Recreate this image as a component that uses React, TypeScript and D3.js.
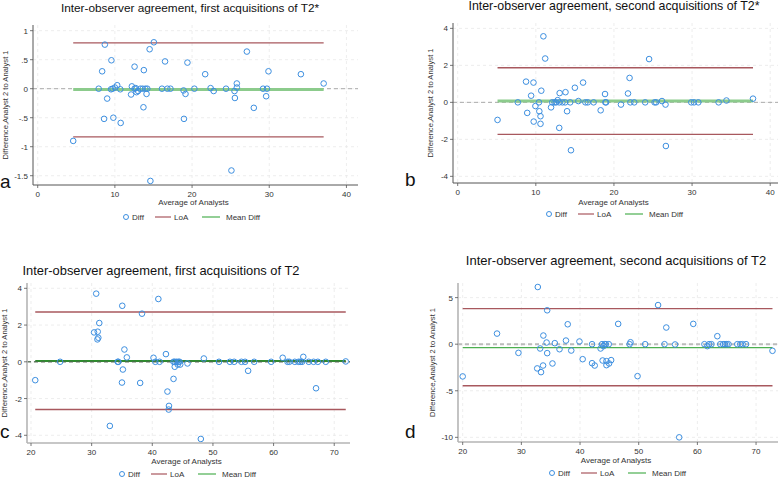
import * as d3 from "d3";
import { useRef, useEffect } from "react";

const W = 778;
const H = 481;

// ---- panel a : first acquisitions of T2*
const aAvg = [4.6, 7.9, 8.35, 8.7, 8.6, 9.0, 9.55, 9.5, 9.7, 9.8, 10.0, 10.3, 10.7, 10.75, 12.1, 12.2, 12.55, 12.55, 12.7, 12.8, 13.0, 13.3, 13.7, 13.75, 13.6, 13.95, 14.1, 14.2, 14.5, 14.6, 15.05, 16.1, 16.5, 16.8, 17.2, 18.9, 18.95, 19.15, 19.4, 20.3, 21.7, 22.4, 22.8, 24.4, 25.1, 25.5, 25.55, 25.8, 25.8, 27.1, 28.0, 29.2, 29.6, 29.7, 29.9, 34.1, 37.05];
const aDiff = [-0.9, 0, 0.3, 0.76, -0.52, -0.17, 0.49, -0.01, 0, -0.5, 0.02, 0.06, -0.01, -0.59, -0.1, 0.04, 0.38, 0, 0.01, -0.06, -0.04, 0, -0.32, 0.32, 0, 0, -0.09, 0, 0.68, -1.59, 0.8, 0, 0.47, 0, 0, -0.03, -0.52, -0.09, 0.45, 0, 0.25, 0.01, -0.04, 0, -1.41, -0.04, -0.16, 0.09, 0.02, 0.64, -0.33, 0, -0.13, 0, 0.3, 0.25, 0.09];
const aLoA = [0.79, -0.83];
const aMeanDiff = -0.015;
const aXTicks = [0, 10, 20, 30, 40];
const aYTicks = [1, 0.5, 0, -0.5, -1, -1.5];

// ---- panel b : second acquisitions of T2*
const bAvg = [5.1, 7.7, 8.75, 8.9, 9.4, 9.7, 9.73, 9.95, 10.4, 10.45, 10.6, 10.6, 10.7, 10.97, 11.2, 11.95, 12.1, 12.4, 12.6, 12.8, 13.0, 13.05, 13.0, 13.4, 13.75, 13.8, 14.0, 14.4, 14.5, 15.0, 15.45, 16.05, 16.35, 16.65, 17.4, 18.3, 18.86, 18.9, 19.0, 20.9, 21.8, 22.0, 22.1, 22.6, 24.0, 24.5, 25.2, 25.4, 26.15, 26.6, 26.65, 29.9, 30.25, 30.8, 33.4, 34.4, 37.8];
const bDiff = [-0.95, 0, 1.12, -0.57, 0.36, 1.07, -1.04, -0.2, 0, -0.48, -0.75, -1.16, 0.63, 3.57, 2.37, -0.27, 0, 0, 0, 0.12, 0, 0.5, -1.38, 0, 0, 0.55, -0.48, 0, -2.59, 0.79, 0.07, 1.07, 0, 0, 0, -0.43, 0.45, 0, 0, -0.12, 0.48, 1.32, 0, 0, 0, 2.34, 0, 0, 0.07, -0.12, -2.36, 0, 0, 0, 0, 0.1, 0.2];
const bLoA = [1.87, -1.73];
const bMeanDiff = 0.07;
const bXTicks = [0, 10, 20, 30, 40];
const bYTicks = [4, 2, 0, -2, -4];

// ---- panel c : first acquisitions of T2
const cAvg = [20.7, 24.8, 30.4, 30.75, 31.0, 31.1, 30.95, 31.26, 33.0, 34.3, 34.4, 35.05, 35.15, 35.0, 35.4, 35.8, 38.0, 38.3, 40.2, 40.5, 41.0, 41.2, 42.25, 42.5, 42.75, 42.7, 43.5, 43.5, 43.7, 44.0, 44.3, 44.5, 43.7, 44.2, 44.6, 45.8, 48.0, 48.5, 51.0, 52.8, 53.5, 54.7, 55.3, 55.8, 56.8, 59.6, 61.5, 62.3, 62.6, 63.5, 64.1, 64.4, 64.7, 64.9, 65.8, 66.6, 67.3, 67.0, 68.6, 71.9];
const cDiff = [-1.0, 0, 1.6, 3.71, 1.64, 1.31, 1.22, 2.11, -3.49, 0, 0, 3.05, -0.42, -1.13, 0.67, 0.24, -1.15, 2.62, 0.22, 0, 3.42, 0, 0.42, -1.62, -2.4, -2.6, -0.93, 0, 0, 0, 0, 0, -0.27, -0.15, -0.15, -0.09, -4.2, 0.18, 0, 0, 0, 0, 0, -0.49, 0, 0, 0.22, 0, 0, 0, 0, 0, 0, 0.27, 0, 0, 0, -1.44, 0, 0.02];
const cLoA = [2.71, -2.6];
const cMeanDiff = 0.04;
const cXTicks = [20, 30, 40, 50, 60, 70];
const cYTicks = [4, 2, 0, -2, -4];

// ---- panel d : second acquisitions of T2
const dAvg = [20.0, 25.85, 29.5, 32.7, 32.8, 33.2, 33.35, 33.7, 33.75, 34.3, 34.4, 34.4, 35.3, 35.7, 36.5, 37.6, 37.9, 38.5, 39.9, 40.45, 42.05, 42.05, 42.5, 43.5, 43.75, 43.85, 44.0, 44.2, 44.4, 44.5, 44.5, 44.9, 44.95, 45.3, 46.5, 48.45, 48.6, 49.8, 51.1, 53.3, 54.4, 54.7, 56.2, 56.9, 59.3, 61.2, 61.7, 62.0, 62.4, 63.4, 63.9, 64.4, 64.7, 65.0, 65.3, 66.8, 67.3, 67.7, 68.3, 72.8];
const dDiff = [-3.46, 1.14, -0.93, -2.6, 6.14, -0.46, -3.0, -2.29, 0.93, 0.18, 3.64, -0.96, -2.07, 0.11, -0.54, 0.39, 2.14, -0.68, 0.29, -1.61, 0, -2.04, -2.29, -0.46, 0, -1.75, -0.21, 0, 0, -2.25, -1.82, 0, -2.07, -1.71, 2.18, 0, 0.21, -3.43, 0, 4.2, 0, 1.79, -0.03, -10.0, 2.18, 0, -0.21, 0, 0, 0.86, 0, 0, 0, 0, 0, 0, 0, 0, 0, -0.71];
const dLoA = [3.82, -4.46];
const dMeanDiff = -0.36;
const dXTicks = [20, 30, 40, 50, 60, 70];
const dYTicks = [5, 0, -5, -10];

const titles = [
  "Inter-observer agreement, first acquisitions of T2*",
  "Inter-observer agreement, second acquisitions of T2*",
  "Inter-observer agreement, first acquisitions of T2",
  "Inter-observer agreement, second acquisitions of T2",
];
const letters = ["a", "b", "c", "d"];

const FONT = "'Liberation Sans', Arial, Helvetica, sans-serif";
const BLUE = "#3d8fe0";
const LOA = "#a8585e";

// stata style labels: .5 instead of 0.5
const fmt = (v) => String(v).replace(/^0\./, ".").replace(/^-0\./, "-.");

const panels = [
  {
    avg: aAvg, diff: aDiff, loa: aLoA, md: aMeanDiff, xt: aXTicks, yt: aYTicks,
    left: 33, right: 358, top: 25, bottom: 185,
    xd: [-0.61, 41.5], yd: [-1.66, 1.098],
    titleX: 190, titleY: 12, titleSize: 11.8, ylabX: 8, xlabY: 205, legX: 126, legY: 220,
    letX: 0, letY: 188, mdColor: "#8ccb8c", mdWidth: 3, zeroColor: "#aaa", zeroW: 1,
  },
  {
    avg: bAvg, diff: bDiff, loa: bLoA, md: bMeanDiff, xt: bXTicks, yt: bYTicks,
    left: 453, right: 778, top: 23, bottom: 183,
    xd: [-0.6, 41.0], yd: [-4.36, 4.29],
    titleX: 614, titleY: 10, titleSize: 12.4, ylabX: 433, xlabY: 205, legX: 549, legY: 217,
    letX: 405, letY: 186, mdColor: "#8ccb8c", mdWidth: 3, zeroColor: "#aaa", zeroW: 1,
  },
  {
    avg: cAvg, diff: cDiff, loa: cLoA, md: cMeanDiff, xt: cXTicks, yt: cYTicks,
    left: 27, right: 350, top: 283, bottom: 443,
    xd: [19.34, 72.6], yd: [-4.42, 4.29],
    titleX: 161, titleY: 275, titleSize: 12.9, ylabX: 7, xlabY: 464, legX: 122, legY: 477,
    letX: 0, letY: 438, mdColor: "#2e8b2e", mdWidth: 2, zeroColor: "#888", zeroW: 1,
  },
  {
    avg: dAvg, diff: dDiff, loa: dLoA, md: dMeanDiff, xt: dXTicks, yt: dYTicks,
    left: 458, right: 778, top: 283, bottom: 442,
    xd: [19.2, 73.74], yd: [-10.5, 6.57],
    titleX: 616, titleY: 265, titleSize: 13, ylabX: 435, xlabY: 463, legX: 552, legY: 476,
    letX: 405, letY: 438, mdColor: "#4caf50", mdWidth: 1.2, zeroColor: "#bbb", zeroW: 2,
  },
];

const ChartDraw = () => {
  const chartRef = useRef(null);

  useEffect(() => {
    const svg = d3.select(chartRef.current);
    svg.selectAll("*").remove();
    svg.append("rect").attr("width", W).attr("height", H).attr("fill", "#fff");

    panels.forEach((p, i) => {
      const g = svg.append("g");
      const x = d3.scaleLinear().domain(p.xd).range([p.left, p.right]);
      const y = d3.scaleLinear().domain(p.yd).range([p.bottom, p.top]);

      // grid
      g.selectAll(".gy").data(p.yt).enter().append("line")
        .attr("x1", p.left).attr("x2", p.right)
        .attr("y1", d => y(d)).attr("y2", d => y(d))
        .attr("stroke", "#e8e8e8").attr("stroke-dasharray", "3,3").attr("stroke-width", 0.8);
      g.selectAll(".gx").data(p.xt).enter().append("line")
        .attr("x1", d => x(d)).attr("x2", d => x(d))
        .attr("y1", p.top).attr("y2", p.bottom)
        .attr("stroke", "#e8e8e8").attr("stroke-dasharray", "3,3").attr("stroke-width", 0.8);

      // zero reference
      g.append("line")
        .attr("x1", p.left).attr("x2", p.right)
        .attr("y1", y(0)).attr("y2", y(0))
        .attr("stroke", p.zeroColor).attr("stroke-width", p.zeroW).attr("stroke-dasharray", "4,3");

      const [x0, x1] = d3.extent(p.avg);
      // limits of agreement
      p.loa.forEach(v => {
        g.append("line")
          .attr("x1", x(x0)).attr("x2", x(x1))
          .attr("y1", y(v)).attr("y2", y(v))
          .attr("stroke", LOA).attr("stroke-width", 1.4);
      });
      // mean diff
      g.append("line")
        .attr("x1", x(x0)).attr("x2", x(x1))
        .attr("y1", y(p.md)).attr("y2", y(p.md))
        .attr("stroke", p.mdColor).attr("stroke-width", p.mdWidth);
      if (i === 2) {
        g.append("line")
          .attr("x1", p.left).attr("x2", p.right)
          .attr("y1", y(0)).attr("y2", y(0))
          .attr("stroke", "#4d6b4d").attr("stroke-width", 1).attr("stroke-dasharray", "4,3");
      }

      // points
      g.selectAll(".pt").data(p.avg).enter().append("circle")
        .attr("cx", d => x(d))
        .attr("cy", (d, j) => y(p.diff[j]))
        .attr("r", 2.8)
        .attr("fill", "none")
        .attr("stroke", BLUE)
        .attr("stroke-width", 1);

      // axes
      const axisColor = i >= 2 ? "#b5b5b5" : "#555";
      const axisW = i >= 2 ? 1.6 : 1;
      g.append("line").attr("x1", p.left).attr("x2", p.left)
        .attr("y1", p.top).attr("y2", p.bottom)
        .attr("stroke", axisColor).attr("stroke-width", axisW);
      g.append("line").attr("x1", p.left).attr("x2", p.right)
        .attr("y1", p.bottom).attr("y2", p.bottom)
        .attr("stroke", axisColor).attr("stroke-width", axisW);

      p.yt.forEach(v => {
        g.append("line").attr("x1", p.left - 3).attr("x2", p.left)
          .attr("y1", y(v)).attr("y2", y(v)).attr("stroke", "#555").attr("stroke-width", 0.8);
        g.append("text").attr("x", p.left - 5).attr("y", y(v) + 3)
          .attr("text-anchor", "end").attr("font-size", 8).attr("fill", "#333")
          .attr("font-family", FONT).text(fmt(v));
      });
      p.xt.forEach(v => {
        g.append("line").attr("x1", x(v)).attr("x2", x(v))
          .attr("y1", p.bottom).attr("y2", p.bottom + 3).attr("stroke", "#555").attr("stroke-width", 0.8);
        g.append("text").attr("x", x(v)).attr("y", p.bottom + 12)
          .attr("text-anchor", "middle").attr("font-size", 8).attr("fill", "#333")
          .attr("font-family", FONT).text(v);
      });

      // titles
      g.append("text").attr("x", p.titleX).attr("y", p.titleY)
        .attr("text-anchor", "middle").attr("font-size", p.titleSize).attr("fill", "#111")
        .attr("font-family", FONT).text(titles[i]);
      g.append("text").attr("x", (p.left + p.right) / 2 - 2).attr("y", p.xlabY)
        .attr("text-anchor", "middle").attr("font-size", 8).attr("fill", "#333")
        .attr("font-family", FONT).text("Average of Analysts");
      g.append("text")
        .attr("transform", `translate(${p.ylabX},${(p.top + p.bottom) / 2}) rotate(-90)`)
        .attr("text-anchor", "middle").attr("font-size", 7.6).attr("fill", "#333")
        .attr("font-family", FONT).text("Difference,Analyst 2 to Analyst 1");
      g.append("text").attr("x", p.letX).attr("y", p.letY)
        .attr("font-size", 19).attr("fill", "#111")
        .attr("font-family", FONT).text(letters[i]);

      // legend
      const lx = p.legX, ly = p.legY;
      g.append("circle").attr("cx", lx).attr("cy", ly - 3).attr("r", 2.5)
        .attr("fill", "none").attr("stroke", BLUE).attr("stroke-width", 1);
      g.append("text").attr("x", lx + 6).attr("y", ly).attr("font-size", 8)
        .attr("fill", "#333").attr("font-family", FONT).text("Diff");
      g.append("line").attr("x1", lx + 29).attr("x2", lx + 45)
        .attr("y1", ly - 3).attr("y2", ly - 3).attr("stroke", LOA).attr("stroke-width", 1.2);
      g.append("text").attr("x", lx + 48).attr("y", ly).attr("font-size", 8)
        .attr("fill", "#333").attr("font-family", FONT).text("LoA");
      g.append("line").attr("x1", lx + 76).attr("x2", lx + 94)
        .attr("y1", ly - 3).attr("y2", ly - 3).attr("stroke", "#4caf50").attr("stroke-width", 1.2);
      g.append("text").attr("x", lx + 100).attr("y", ly).attr("font-size", 8)
        .attr("fill", "#333").attr("font-family", FONT).text("Mean Diff");
    });
  }, []);

  return (
    <svg ref={chartRef} width={W} height={H}
      style={{ position: "absolute", left: 0, top: 0, display: "block" }}></svg>
  );
};

export default function App() {
  return <ChartDraw />;
}
